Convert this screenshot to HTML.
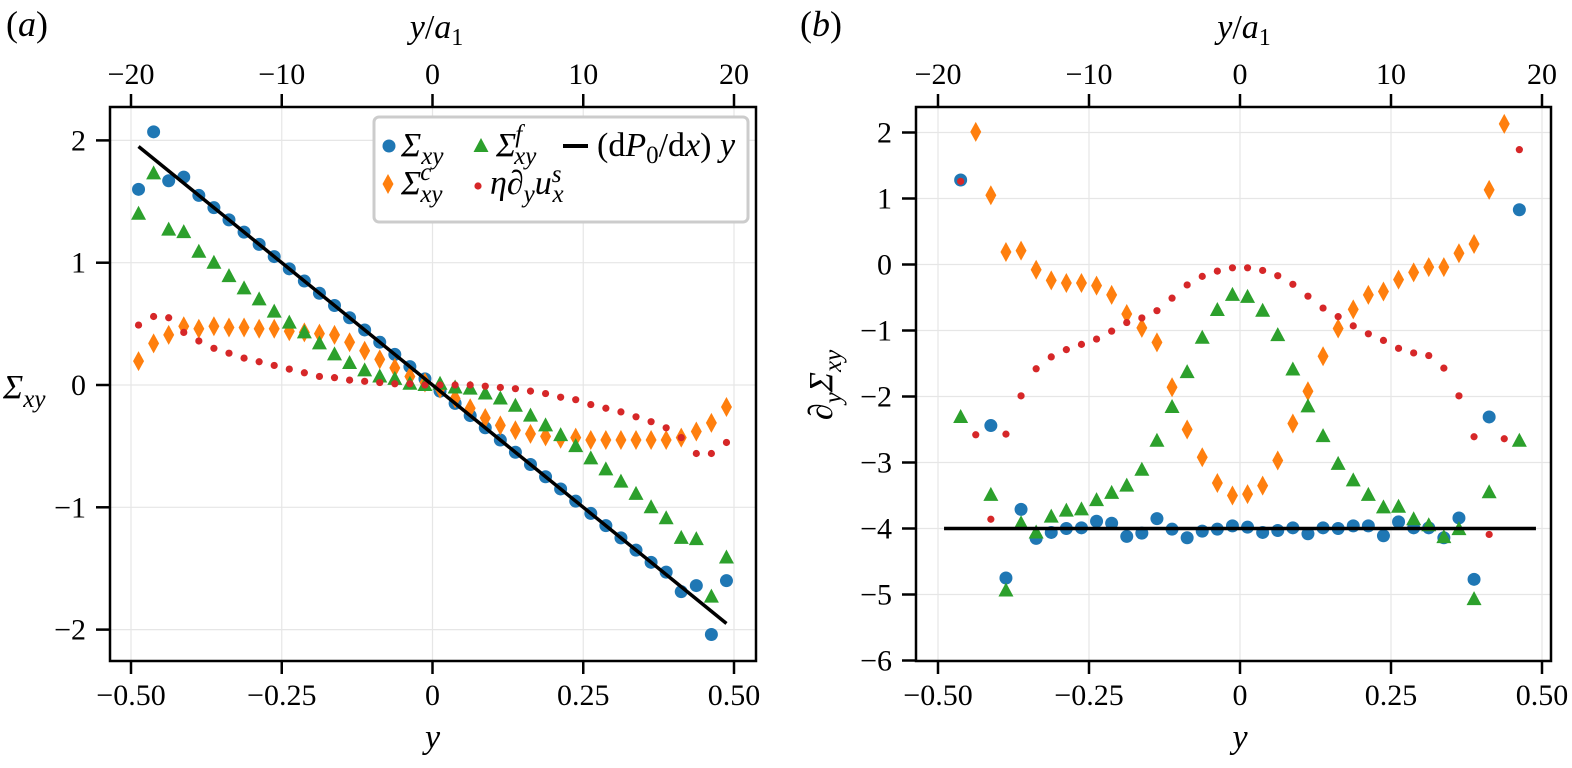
<!DOCTYPE html>
<html><head><meta charset="utf-8"><style>
body{margin:0;background:#fff;}
svg text{font-family:"Liberation Serif",serif;fill:#000;}
</style></head><body>
<svg id="fig" width="1572" height="763" viewBox="0 0 1572 763" xmlns="http://www.w3.org/2000/svg"></svg>
<script>
// ---- panel (a) data
const aCount = 40;
const aSigma = [1.60,2.07,1.67,1.70,1.55,1.45,1.35,1.25,1.15,1.05,0.95,0.85,0.75,0.65,0.55,0.45,0.35,0.25,0.15,0.05,-0.05,-0.15,-0.25,-0.35,-0.45,-0.55,-0.65,-0.75,-0.85,-0.95,-1.05,-1.15,-1.25,-1.35,-1.45,-1.53,-1.69,-1.64,-2.04,-1.60];
const aSigmaC = [0.195,0.34,0.41,0.48,0.46,0.48,0.47,0.47,0.46,0.46,0.44,0.43,0.42,0.41,0.35,0.28,0.21,0.14,0.07,0.02,-0.03,-0.11,-0.19,-0.27,-0.33,-0.37,-0.40,-0.42,-0.44,-0.43,-0.45,-0.45,-0.45,-0.45,-0.45,-0.45,-0.43,-0.38,-0.31,-0.18];
const aSigmaF = [1.40,1.73,1.27,1.25,1.09,1.00,0.89,0.79,0.70,0.60,0.51,0.43,0.34,0.25,0.18,0.12,0.07,0.05,0.01,0.0,0.01,-0.02,-0.03,-0.07,-0.11,-0.17,-0.25,-0.33,-0.41,-0.50,-0.60,-0.69,-0.79,-0.89,-1.00,-1.09,-1.25,-1.26,-1.73,-1.41];
const aVisc = [0.49,0.56,0.55,0.43,0.36,0.30,0.26,0.22,0.19,0.16,0.13,0.10,0.07,0.06,0.04,0.03,0.02,0.01,0.01,0.0,0.0,0.0,0.0,-0.01,-0.02,-0.03,-0.05,-0.07,-0.10,-0.12,-0.16,-0.19,-0.22,-0.26,-0.30,-0.35,-0.43,-0.56,-0.56,-0.47];
const aLine = [[-0.4875,1.95],[0.4875,-1.95]];
// ---- panel (b) data
const bCount = 38;
const bSigma = [1.28,null,-2.44,-4.75,-3.71,-4.15,-4.06,-4.0,-3.99,-3.89,-3.92,-4.12,-4.07,-3.85,-4.01,-4.14,-4.04,-4.01,-3.96,-3.98,-4.06,-4.03,-3.99,-4.08,-3.99,-4.0,-3.96,-3.96,-4.11,-3.90,-3.99,-3.99,-4.14,-3.84,-4.77,-2.31,null,0.83];
const bSigmaC = [null,2.01,1.05,0.19,0.21,-0.08,-0.24,-0.28,-0.28,-0.32,-0.46,-0.75,-0.96,-1.18,-1.86,-2.50,-2.92,-3.31,-3.50,-3.48,-3.35,-2.97,-2.41,-1.92,-1.39,-0.97,-0.68,-0.46,-0.41,-0.23,-0.12,-0.04,-0.04,0.17,0.31,1.13,2.13,null];
const bSigmaF = [-2.31,null,-3.49,-4.94,-3.92,-4.06,-3.82,-3.73,-3.71,-3.57,-3.46,-3.35,-3.11,-2.67,-2.16,-1.63,-1.11,-0.69,-0.46,-0.49,-0.70,-1.07,-1.59,-2.15,-2.60,-3.02,-3.27,-3.49,-3.68,-3.67,-3.86,-3.95,-4.13,-4.01,-5.07,-3.45,null,-2.67];
const bVisc = [1.26,-2.58,-3.86,-2.57,-1.99,-1.58,-1.40,-1.29,-1.21,-1.13,-1.01,-0.88,-0.81,-0.70,-0.51,-0.31,-0.18,-0.10,-0.05,-0.05,-0.09,-0.17,-0.30,-0.48,-0.66,-0.79,-0.93,-1.05,-1.15,-1.27,-1.34,-1.38,-1.57,-1.99,-2.61,-4.09,-2.64,1.74];
const bLine = [[-0.49,-4],[0.49,-4]];
const xTicks = [-0.5,-0.25,0,0.25,0.5];
const xTickLabels = ["\u22120.50","\u22120.25","0","0.25","0.50"];
const topTicks = [-20,-10,0,10,20];
const topTickLabels = ["\u221220","\u221210","0","10","20"];
const aYTicks = [-2,-1,0,1,2];
const aYTickLabels = ["\u22122","\u22121","0","1","2"];
const bYTicks = [-6,-5,-4,-3,-2,-1,0,1,2];
const bYTickLabels = ["\u22126","\u22125","\u22124","\u22123","\u22122","\u22121","0","1","2"];

const NS="http://www.w3.org/2000/svg";
const svg=document.getElementById('fig');
function mk(tag,attrs,parent){const e=document.createElementNS(NS,tag);for(const k in attrs)e.setAttribute(k,attrs[k]);(parent||svg).appendChild(e);return e;}
const C={b:"#1f77b4",o:"#ff7f0e",g:"#2ca02c",r:"#d62728"};

function panel(P){
  const g=mk('g',{});
  
  
  const sx=v=>P.x0+(v+0.5)*P.xs;
  const sy=v=>P.y0-v*P.ys;
  xTicks.forEach(t=>{const l=mk('line',{x1:sx(t),x2:sx(t),y1:P.top,y2:P.bot,stroke:"#e6e6e6","stroke-width":1.2},g);
    });
  P.yt.forEach(t=>{const l=mk('line',{x1:P.left,x2:P.right,y1:sy(t),y2:sy(t),stroke:"#e6e6e6","stroke-width":1.2},g);
    });
  const idx=(i,n)=>n==40?-0.4875+0.025*i:-0.4625+0.025*i;
  function series(arr,type,color,nm){
    arr.forEach((v,i)=>{ if(v===null)return; const x=sx(idx(i,arr.length)),y=sy(v); let e;
      if(type=='c') e=mk('circle',{cx:x,cy:y,r:6.5,fill:color},g);
      else if(type=='d') e=mk('path',{d:`M${x} ${y-10}L${x+5.5} ${y}L${x} ${y+10}L${x-5.5} ${y}Z`,fill:color},g);
      else if(type=='t') e=mk('path',{d:`M${x} ${y-8}L${x+7.5} ${y+6}L${x-7.5} ${y+6}Z`,fill:color},g);
      else e=mk('circle',{cx:x,cy:y,r:3.6,fill:color},g);
      });
  }
  series(P.s,'c',C.b,'sigma-point');
  series(P.sc,'d',C.o,'sigma-c-point');
  series(P.sf,'t',C.g,'sigma-f-point');
  series(P.v,'r',C.r,'viscous-point');
  const ln=mk('line',{x1:sx(P.line[0][0]),y1:sy(P.line[0][1]),x2:sx(P.line[1][0]),y2:sy(P.line[1][1]),stroke:"#000","stroke-width":3.5},g);
  
  const fr=mk('rect',{x:P.left,y:P.top,width:P.right-P.left,height:P.bot-P.top,fill:"none",stroke:"#000","stroke-width":2.5},g);
  
  xTicks.forEach((t,i)=>{
    mk('line',{x1:sx(t),x2:sx(t),y1:P.bot,y2:P.bot+13,stroke:"#000","stroke-width":2.5},g);
    const tx=mk('text',{x:sx(t),y:P.bot+44,"font-size":30,"text-anchor":"middle"},g);tx.textContent=xTickLabels[i];
    
  });
  topTicks.forEach((t,i)=>{
    const xx=sx(t/40);
    mk('line',{x1:xx,x2:xx,y1:P.top,y2:P.top-13,stroke:"#000","stroke-width":2.5},g);
    const tx=mk('text',{x:xx,y:P.top-23,"font-size":30,"text-anchor":"middle"},g);tx.textContent=topTickLabels[i];
    
  });
  P.yt.forEach((t,i)=>{
    mk('line',{x1:P.left-14,x2:P.left,y1:sy(t),y2:sy(t),stroke:"#000","stroke-width":2.5},g);
    const tx=mk('text',{x:P.left-24,y:sy(t)+10,"font-size":30,"text-anchor":"end"},g);tx.textContent=P.ytl[i];
    
  });
  const xl=mk('text',{x:sx(0),y:748,"font-size":34,"font-style":"italic","text-anchor":"middle"},g);xl.textContent="y";
  
  const tl=mk('text',{x:sx(0)+4,y:38,"font-size":34,"text-anchor":"middle"},g);
  tl.innerHTML='<tspan font-style="italic">y</tspan>/<tspan font-style="italic">a</tspan><tspan font-size="24" dy="7">1</tspan>';
  
  const pl=mk('text',{x:P.lblx,y:36,"font-size":36},g);
  pl.innerHTML='(<tspan font-style="italic">'+P.letter+'</tspan>)';
  
}
panel({name:'panel-a',letter:'a',lblx:6,left:110,right:756,top:107,bot:661,x0:131,xs:603,y0:385,ys:122.3,yt:aYTicks,ytl:aYTickLabels,s:aSigma,sc:aSigmaC,sf:aSigmaF,v:aVisc,line:aLine});
panel({name:'panel-b',letter:'b',lblx:800,left:916,right:1551,top:107,bot:661,x0:938,xs:604,y0:264.5,ys:66,yt:bYTicks,ytl:bYTickLabels,s:bSigma,sc:bSigmaC,sf:bSigmaF,v:bVisc,line:bLine});

const ya=mk('text',{x:3,y:398,"font-size":34,"font-style":"italic"});
ya.innerHTML='Σ<tspan font-size="25" dy="9">xy</tspan>';

const yb=mk('text',{x:0,y:0,"font-size":34,"text-anchor":"middle",transform:"translate(832,385) rotate(-90)"});
yb.innerHTML='∂<tspan font-style="italic" font-size="25" dy="9">y</tspan><tspan font-style="italic" dy="-9">Σ</tspan><tspan font-style="italic" font-size="25" dy="9">xy</tspan>';


const lg=mk('g',{});

mk('rect',{x:374,y:117,width:374,height:105,rx:5,fill:"#fff",stroke:"#cccccc","stroke-width":3},lg);
function ltext(x,y,html,nm){const t=mk('text',{x:x,y:y,"font-size":34,"font-style":"italic"},lg);t.innerHTML=html;
  return t;}
mk('circle',{cx:389,cy:146,r:6.5,fill:C.b},lg);
ltext(401,156,'Σ<tspan font-size="25" dy="8">xy</tspan>','legend-entry-sigma');
mk('path',{d:"M388 174L393.5 184L388 194L382.5 184Z",fill:C.o},lg);
ltext(401,194,'Σ<tspan font-size="25" dx="-1" dy="-14">c</tspan><tspan font-size="25" dx="-11" dy="22">xy</tspan>','legend-entry-sigma-c');
mk('path',{d:"M481 138L488.5 152L473.5 152Z",fill:C.g},lg);
ltext(496,156,'Σ<tspan font-size="25" dx="-1" dy="-14">f</tspan><tspan font-size="25" dx="-8" dy="22">xy</tspan>','legend-entry-sigma-f');
mk('circle',{cx:478,cy:186,r:3.6,fill:C.r},lg);
ltext(490,194,'η∂<tspan font-size="25" dy="8">y</tspan><tspan dy="-8">u</tspan><tspan font-size="25" dy="-12">s</tspan><tspan font-size="25" dx="-9" dy="20">x</tspan>','legend-entry-viscous');
mk('line',{x1:563,x2:588,y1:146,y2:146,stroke:"#000","stroke-width":4},lg);
const lt=mk('text',{x:597,y:156,"font-size":34},lg);
lt.innerHTML='(d<tspan font-style="italic">P</tspan><tspan font-size="25" dy="7">0</tspan><tspan dy="-7">/d</tspan><tspan font-style="italic">x</tspan>) <tspan font-style="italic">y</tspan>';

</script>
</body></html>
